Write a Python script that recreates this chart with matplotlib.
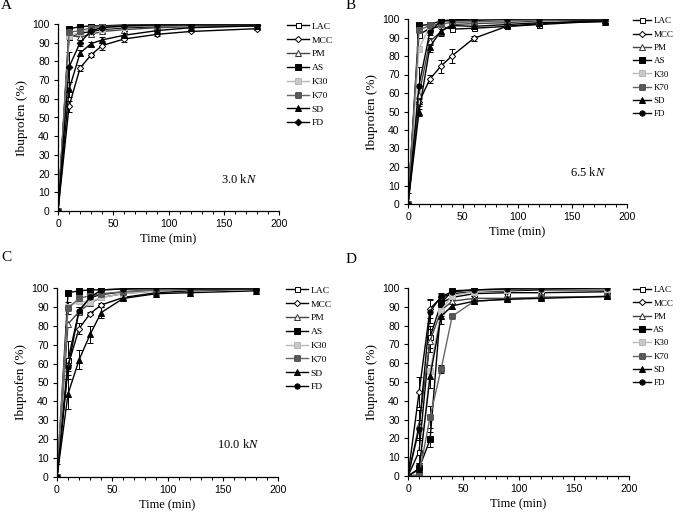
import matplotlib
matplotlib.use("Agg")
import matplotlib.pyplot as plt
from matplotlib.ticker import MultipleLocator

plt.rcParams['mathtext.fontset'] = 'custom'
plt.rcParams['mathtext.rm'] = 'Liberation Serif'
plt.rcParams['mathtext.it'] = 'Liberation Serif:italic'

time = [0, 10, 20, 30, 40, 60, 90, 120, 180]
series = ["LAC", "MCC", "PM", "AS", "K30", "K70", "SD", "FD"]

# Panel A: 3.0 kN
A_LAC = [0, 93, 95, 96, 97, 98, 98.5, 99, 99.5]
A_MCC = [0, 56, 76.5, 83.5, 88.5, 92, 94.5, 96, 97.5]
A_PM = [0, 94, 93, 94.5, 96, 97, 98, 98.5, 99]
A_AS = [0, 97.5, 98.5, 99, 99, 99.5, 99.5, 99.5, 99.5]
A_K30 = [0, 93.5, 95.5, 97, 97.5, 98.5, 99, 99, 99.5]
A_K70 = [0, 95.5, 96.5, 98, 98.5, 99, 99, 99.5, 99.5]
A_SD = [0, 65, 84.5, 89.5, 91.5, 94, 96.5, 98, 99]
A_FD = [0, 77, 90, 96.5, 98, 99, 99.5, 99.5, 99.5]
A_ERR = {"MCC": [0, 3, 1.5, 1, 2.5, 1.5, 1, 0.5, 0.5],
         "SD": [0, 4, 1.5, 1, 1.5, 1, 0.5, 0.5, 0.5],
         "FD": [0, 8, 2, 1, 1, 0.5, 0.5, 0.5, 0.5],
         "LAC": [0, 1, 1, 1, 1, 0.5, 0.5, 0.5, 0.5]}

# Panel B: 6.5 kN
B_LAC = [0, 91.5, 95, 96, 94.5, 95, 96, 97, 99]
B_MCC = [0, 55, 67.5, 74.5, 80, 89.5, 96, 97.5, 99.5]
B_PM = [0, 59, 88, 93, 97, 97.5, 98, 99, 99.5]
B_AS = [0, 96.5, 97, 99, 99, 99, 99.5, 99.5, 99.5]
B_K30 = [0, 84, 96, 97, 98, 98.5, 99, 99.5, 100]
B_K70 = [0, 94, 96.5, 97.5, 98, 98.5, 99, 99.5, 100]
B_SD = [0, 49.5, 85, 93.5, 96.5, 96, 97, 98, 98.5]
B_FD = [0, 64, 93, 99, 99.5, 100, 100, 100, 100]
B_ERR = {"MCC": [0, 2, 2, 3.5, 4, 1.5, 1, 0.5, 0.5],
         "SD": [6, 2, 3, 1.5, 1, 1, 0.5, 0.5, 0.5],
         "FD": [0, 10, 1.5, 0.5, 0.5, 0.5, 0.5, 0.5, 0.5],
         "PM": [0, 5, 2, 2, 1, 0.5, 0.5, 0.5, 0.5]}

# Panel C: 10.0 kN
C_LAC = [0, 62, 88, 95, 96.5, 98, 99, 99, 99.5]
C_MCC = [0, 59, 78.5, 86.5, 91, 95, 97.5, 98.5, 99.5]
C_PM = [0, 81, 87.5, 92, 95, 97, 98.5, 99, 99.5]
C_AS = [0, 97.5, 98.5, 99, 99, 99.5, 99.5, 99.5, 99.5]
C_K30 = [0, 90, 93, 92.5, 95, 97, 98.5, 99, 99.5]
C_K70 = [0, 89.5, 94.5, 96, 97, 98, 99, 99, 99.5]
C_SD = [0, 44, 62, 75.5, 87, 94.5, 97, 97.5, 98.5]
C_FD = [0, 58, 88, 95, 99, 99.5, 100, 99.5, 99.5]
C_ERR = {"MCC": [0, 3, 3, 1, 1, 1, 0.5, 0.5, 0.5],
         "SD": [7, 8, 5, 4.5, 3, 1, 0.5, 0.5, 0.5],
         "FD": [0, 4, 2, 1, 0.5, 0.5, 0.5, 0.5, 0.5],
         "LAC": [0, 10, 2, 1, 1, 0.5, 0.5, 0.5, 0.5],
         "K70": [0, 3, 2, 1, 1, 0.5, 0.5, 0.5, 0.5]}

# Panel D: no annotation
D_LAC = [0, 13, 74, 92, 95, 97, 97.5, 97.5, 98]
D_MCC = [0, 44.5, 89, 95, 97, 98, 98.5, 99, 99]
D_PM = [0, 27, 72, 88, 93, 94.5, 94.5, 95, 95.5]
D_AS = [0, 4, 19.5, 92, 98.5, 99, 99.5, 99.5, 99.5]
D_K30 = [0, 1, 56, 88, 96, 98, 99, 99.5, 99.5]
D_K70 = [0, 0.5, 31.5, 57, 85, 93, 94, 95, 95.5]
D_SD = [0, 3.5, 53, 85, 90.5, 93, 94, 94.5, 95.5]
D_FD = [0, 25, 87.5, 95.5, 98, 99, 99.5, 99.5, 100]
D_ERR = {"MCC": [0, 8, 5, 2, 1, 1, 0.5, 0.5, 0.5],
         "LAC": [0, 6, 6, 2, 1, 1, 0.5, 0.5, 0.5],
         "PM": [0, 8, 6, 3, 1, 1, 0.5, 0.5, 0.5],
         "AS": [0, 3, 4, 2, 1, 0.5, 0.5, 0.5, 0.5],
         "K70": [0, 1, 6, 2, 1, 0.5, 0.5, 0.5, 0.5],
         "SD": [0, 3, 6, 4, 1.5, 1, 0.5, 0.5, 0.5],
         "FD": [0, 5, 6, 2, 1, 0.5, 0.5, 0.5, 0.5]}

panels = [
    ("A", [A_LAC, A_MCC, A_PM, A_AS, A_K30, A_K70, A_SD, A_FD], A_ERR, "3.0 k$\\it{N}$"),
    ("B", [B_LAC, B_MCC, B_PM, B_AS, B_K30, B_K70, B_SD, B_FD], B_ERR, "6.5 k$\\it{N}$"),
    ("C", [C_LAC, C_MCC, C_PM, C_AS, C_K30, C_K70, C_SD, C_FD], C_ERR, "10.0 k$\\it{N}$"),
    ("D", [D_LAC, D_MCC, D_PM, D_AS, D_K30, D_K70, D_SD, D_FD], D_ERR, None),
]

styles = {
    "LAC": dict(marker='s', mfc='white', mec='black', color='black', ms=3.6),
    "MCC": dict(marker='D', mfc='white', mec='black', color='black', ms=3.2),
    "PM": dict(marker='^', mfc='white', mec='#333333', color='#444444', ms=4),
    "AS": dict(marker='s', mfc='black', mec='black', color='black', ms=3.8),
    "K30": dict(marker='s', mfc='#c8c8c8', mec='#b8b8b8', color='#b8b8b8', ms=3.8),
    "K70": dict(marker='$\\boxtimes$', mfc='#777777', mec='#555555', color='#666666', ms=4),
    "SD": dict(marker='^', mfc='black', mec='black', color='black', ms=4.2),
    "FD": dict(marker='o', mfc='black', mec='black', color='black', ms=3.8),
}

positions = {
    "A": [58 / 680, 1 - 211 / 518, 221 / 680, 187 / 518],
    "B": [408 / 680, 1 - 204 / 518, 219 / 680, 185 / 518],
    "C": [57 / 680, 1 - 477 / 518, 221 / 680, 189 / 518],
    "D": [408 / 680, 1 - 476 / 518, 221 / 680, 188 / 518],
}
legend_anchor = {"A": (1.02, 1.03), "B": (1.01, 1.03), "C": (1.02, 1.03), "D": (1.0, 1.03)}
legend_hl = {"A": 2.3, "B": 2.0, "C": 2.3, "D": 2.0}
legend_fs = {"A": 6.8, "B": 6.5, "C": 6.8, "D": 6.5}
letter_pos = {"A": (1 / 680, 1 + 1 / 518), "B": (346 / 680, 1 + 1 / 518),
              "C": (1 / 680, 1 - 251 / 518), "D": (346 / 680, 1 - 253 / 518)}

fig = plt.figure(figsize=(6.8, 5.18), dpi=100)
serif = 'Liberation Serif'
sans = 'Liberation Sans'

for letter, data, errs, note in panels:
    ax = fig.add_axes(positions[letter])
    for name, y in zip(series, data):
        st = dict(styles[name])
        ms = st.pop('ms', 3.6)
        if letter == "A" and name == "FD":
            st['marker'] = 'D'
            ms = 3.4
        if name in errs:
            ax.errorbar(time, y, yerr=errs[name], fmt='none', ecolor='black',
                        elinewidth=0.7, capsize=2.4, capthick=0.7, zorder=1)
        ax.plot(time, y, lw=1.0, ms=ms, mew=0.7, label=name, zorder=2, **st)
    ax.set_xlim(0, 200)
    ax.set_ylim(0, 100)
    ax.xaxis.set_major_locator(MultipleLocator(50))
    ax.xaxis.set_minor_locator(MultipleLocator(10))
    ax.yaxis.set_major_locator(MultipleLocator(10))
    ax.spines['top'].set_visible(False)
    ax.spines['right'].set_visible(False)
    for s in ('left', 'bottom'):
        ax.spines[s].set_linewidth(0.9)
    ax.tick_params(which='major', direction='out', length=3, width=0.8, labelsize=7.5, pad=3)
    ax.tick_params(which='minor', direction='out', length=2, width=0.7)
    ax.tick_params(axis='y', which='minor', left=False)
    for lab in ax.get_xticklabels() + ax.get_yticklabels():
        lab.set_fontfamily(sans)
    ax.set_xlabel("Time (min)", fontfamily=serif, fontsize=9, labelpad=3)
    ax.set_ylabel("Ibuprofen (%)", fontfamily=serif, fontsize=9.5, labelpad=3)
    if note:
        ax.text(164, 17, note, fontfamily=serif, fontsize=9, ha='center', va='center')
    ax.legend(loc='upper left', bbox_to_anchor=legend_anchor[letter], frameon=False,
              prop={'family': serif, 'size': legend_fs[letter]}, handlelength=legend_hl[letter],
              handletextpad=0.3, labelspacing=0.55, borderaxespad=0)
    fig.text(letter_pos[letter][0], letter_pos[letter][1], letter, fontfamily=serif,
             fontsize=11, ha='left', va='top')

fig.savefig("out.png", dpi=100)
